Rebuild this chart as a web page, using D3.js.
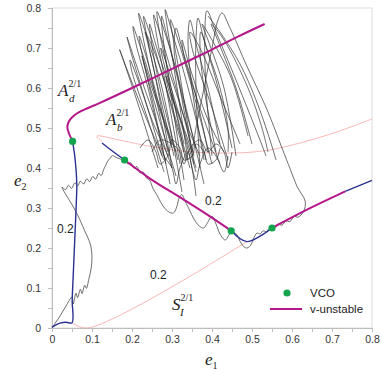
<!DOCTYPE html>
<html>
<head>
<meta charset="utf-8">
<script src="https://cdn.jsdelivr.net/npm/d3@7"></script>
<style>
	body { margin: 0; background: #fff; }
	svg { display: block; }
</style>
</head>
<body>
<div id="chart"></div>
<script>
// tick values
var majorTicks = [0, 0.1, 0.2, 0.3, 0.4, 0.5, 0.6, 0.7, 0.8];
var minorTicks = [0.05, 0.15, 0.25, 0.35, 0.45, 0.55, 0.65, 0.75];

// branch A (left): stable part (blue) and v-unstable part (magenta)
var branchAStable = [[0, 0.002], [0.01, 0.008], [0.02, 0.012], [0.035, 0.0145], [0.05, 0.013],
	[0.0505, 0.07], [0.053, 0.13], [0.056, 0.2], [0.059, 0.27], [0.061, 0.32], [0.062, 0.36],
	[0.058, 0.42], [0.0515, 0.4665]];
var branchAUnstable = [[0.0515, 0.4665], [0.043, 0.485], [0.0385, 0.5], [0.04, 0.511], [0.046, 0.522],
	[0.056, 0.532], [0.07, 0.541], [0.09, 0.55], [0.12, 0.563], [0.2, 0.6], [0.3, 0.648],
	[0.4, 0.696], [0.466, 0.729], [0.5315, 0.76]];

// branch B (lower): pieces alternating stable / v-unstable
var branchBStable = [
	[[0.125, 0.4625], [0.15, 0.443], [0.1815, 0.42]],
	[[0.448, 0.243], [0.4875, 0.216], [0.55, 0.25]],
	[[0.733, 0.3415], [0.8, 0.369]]
];
var branchBUnstable = [
	[[0.1815, 0.42], [0.246, 0.373], [0.329, 0.321], [0.39, 0.282], [0.448, 0.243]],
	[[0.55, 0.25], [0.64, 0.297], [0.733, 0.3415]]
];

// thin boundaries
var boundLower = [[0.05, 0.013], [0.089, 0], [0.4875, 0.216]];
var boundUpper = [[0.125, 0.4665], [0.112, 0.48], [0.166, 0.4705], [0.225, 0.458], [0.333, 0.4415],
	[0.454, 0.4375], [0.5375, 0.444], [0.62, 0.4625], [0.704, 0.4875], [0.8, 0.5225]];

// VCO points
var vcoPoints = [[0.0515, 0.4665], [0.1815, 0.42], [0.448, 0.243], [0.55, 0.25]];

// simulated trajectories
var trajLeft = [[0, 0], [0.008, 0.012], [0.02, 0.03], [0.035, 0.055], [0.05, 0.077], [0.053, 0.06],
	[0.06, 0.087], [0.064, 0.076], [0.071, 0.097], [0.075, 0.086], [0.082, 0.107], [0.086, 0.099],
	[0.092, 0.122], [0.098, 0.15], [0.1, 0.18], [0.097, 0.205], [0.09, 0.225], [0.083, 0.24],
	[0.07, 0.27], [0.055, 0.3], [0.04, 0.325], [0.028, 0.345], [0.025, 0.352], [0.034, 0.346],
	[0.041, 0.357], [0.049, 0.349], [0.057, 0.363], [0.064, 0.355], [0.071, 0.367], [0.079, 0.36],
	[0.087, 0.373], [0.094, 0.366], [0.102, 0.379], [0.109, 0.372], [0.117, 0.387], [0.123, 0.381],
	[0.129, 0.396], [0.134, 0.406], [0.139, 0.417], [0.145, 0.424], [0.151, 0.431], [0.159, 0.427],
	[0.167, 0.424], [0.175, 0.421], [0.1815, 0.42]];
var trajDown = [[0.1815, 0.42], [0.19, 0.41], [0.197, 0.413], [0.205, 0.399], [0.212, 0.404],
	[0.22, 0.388], [0.228, 0.39], [0.236, 0.375], [0.244, 0.37], [0.252, 0.35], [0.262, 0.333],
	[0.272, 0.314], [0.283, 0.298], [0.294, 0.289], [0.304, 0.288], [0.312, 0.303], [0.318, 0.326],
	[0.325, 0.333], [0.333, 0.316], [0.343, 0.297], [0.355, 0.272], [0.368, 0.255], [0.379, 0.25],
	[0.388, 0.262], [0.4, 0.279], [0.41, 0.26], [0.42, 0.235], [0.433, 0.22], [0.442, 0.232],
	[0.448, 0.243], [0.455, 0.239], [0.4625, 0.233], [0.472, 0.213], [0.48, 0.203], [0.4875, 0.2],
	[0.496, 0.206], [0.505, 0.226], [0.5125, 0.2375], [0.52, 0.235], [0.528, 0.243], [0.536, 0.241],
	[0.545, 0.251], [0.555, 0.249], [0.565, 0.26], [0.575, 0.257], [0.585, 0.268], [0.595, 0.266],
	[0.605, 0.279], [0.615, 0.277], [0.629, 0.2915], [0.633, 0.3165], [0.6125, 0.354], [0.596, 0.396],
	[0.575, 0.45], [0.5375, 0.546], [0.4875, 0.654], [0.445, 0.75], [0.425, 0.7875], [0.415, 0.77],
	[0.4, 0.7], [0.38, 0.6], [0.36, 0.5], [0.35, 0.44]];
var trajTangle = [
	[[0.265, 0.40], [0.215, 0.56], [0.185, 0.65], [0.169, 0.696], [0.19, 0.64], [0.225, 0.55], [0.28, 0.42]],
	[[0.275, 0.43], [0.23, 0.58], [0.2, 0.68], [0.1875, 0.7275], [0.21, 0.66], [0.245, 0.56], [0.3, 0.40]],
	[[0.285, 0.41], [0.24, 0.6], [0.21, 0.71], [0.2025, 0.754], [0.225, 0.69], [0.26, 0.58], [0.31, 0.44]],
	[[0.29, 0.44], [0.25, 0.62], [0.225, 0.74], [0.2165, 0.787], [0.24, 0.72], [0.275, 0.6], [0.325, 0.34]],
	[[0.30, 0.40], [0.26, 0.62], [0.235, 0.74], [0.229, 0.779], [0.25, 0.72], [0.285, 0.6], [0.335, 0.42]],
	[[0.305, 0.43], [0.265, 0.6], [0.24, 0.71], [0.233, 0.74], [0.26, 0.68], [0.295, 0.57], [0.345, 0.40]],
	[[0.32, 0.41], [0.28, 0.63], [0.26, 0.74], [0.254, 0.783], [0.275, 0.72], [0.31, 0.6], [0.355, 0.43]],
	[[0.33, 0.44], [0.29, 0.64], [0.267, 0.75], [0.2625, 0.791], [0.285, 0.73], [0.32, 0.61], [0.38, 0.36]],
	[[0.34, 0.42], [0.305, 0.65], [0.287, 0.76], [0.283, 0.796], [0.3, 0.74], [0.335, 0.62], [0.385, 0.42]],
	[[0.35, 0.44], [0.32, 0.63], [0.3, 0.74], [0.296, 0.771], [0.315, 0.72], [0.35, 0.6], [0.40, 0.41]],
	[[0.37, 0.40], [0.36, 0.6], [0.36, 0.72], [0.365, 0.775], [0.38, 0.72], [0.41, 0.62], [0.45, 0.45]],
	[[0.40, 0.43], [0.385, 0.6], [0.382, 0.73], [0.3875, 0.793], [0.41, 0.74], [0.46, 0.62], [0.52, 0.47], [0.535, 0.43]],
	[[0.31, 0.38], [0.26, 0.55], [0.235, 0.64], [0.225, 0.68], [0.25, 0.6], [0.3, 0.46]],
	[[0.36, 0.39], [0.31, 0.56], [0.28, 0.66], [0.272, 0.70], [0.3, 0.62], [0.34, 0.5], [0.37, 0.43]],
	[[0.42, 0.41], [0.36, 0.58], [0.33, 0.68], [0.325, 0.72], [0.345, 0.65], [0.39, 0.52], [0.43, 0.44]],
	[[0.44, 0.42], [0.40, 0.55], [0.35, 0.7], [0.345, 0.74], [0.37, 0.7], [0.42, 0.58], [0.47, 0.46]],
	[[0.5, 0.46], [0.46, 0.6], [0.41, 0.73], [0.398, 0.76], [0.43, 0.72], [0.49, 0.6], [0.525, 0.5], [0.54, 0.44]],
	[[0.28, 0.39], [0.24, 0.52], [0.2, 0.64], [0.195, 0.67], [0.215, 0.62], [0.25, 0.52], [0.29, 0.43]],
	[[0.295, 0.36], [0.255, 0.55], [0.222, 0.7], [0.218, 0.73], [0.238, 0.67], [0.27, 0.55], [0.3, 0.45]],
	[[0.315, 0.42], [0.27, 0.6], [0.248, 0.72], [0.244, 0.76], [0.262, 0.7], [0.3, 0.58], [0.33, 0.46]],
	[[0.33, 0.37], [0.295, 0.6], [0.276, 0.74], [0.274, 0.78], [0.29, 0.72], [0.325, 0.58], [0.36, 0.45]],
	[[0.355, 0.41], [0.32, 0.6], [0.305, 0.7], [0.31, 0.75], [0.325, 0.7], [0.36, 0.58], [0.39, 0.44]],
	[[0.38, 0.42], [0.35, 0.6], [0.34, 0.72], [0.345, 0.77], [0.36, 0.71], [0.39, 0.6], [0.42, 0.46]],
	[[0.46, 0.43], [0.43, 0.6], [0.39, 0.72], [0.375, 0.76], [0.4, 0.72], [0.45, 0.62], [0.49, 0.48]],
	[[0.41, 0.44], [0.38, 0.6], [0.37, 0.7], [0.372, 0.74], [0.39, 0.69], [0.42, 0.6], [0.44, 0.5], [0.44, 0.44]],
	[[0.39, 0.78], [0.42, 0.74], [0.47, 0.66], [0.51, 0.57], [0.545, 0.47], [0.56, 0.42]],
	[[0.36, 0.33], [0.35, 0.4], [0.32, 0.52], [0.29, 0.6], [0.285, 0.63], [0.3, 0.58], [0.34, 0.47], [0.36, 0.4]],
	[[0.22, 0.45], [0.24, 0.47], [0.26, 0.44], [0.27, 0.41], [0.29, 0.43], [0.30, 0.47], [0.32, 0.45],
		[0.33, 0.42], [0.35, 0.43], [0.36, 0.46], [0.38, 0.44], [0.39, 0.41], [0.41, 0.42], [0.42, 0.45]],
	[[0.27, 0.46], [0.28, 0.43], [0.3, 0.4], [0.31, 0.36], [0.32, 0.4], [0.34, 0.44], [0.35, 0.4],
		[0.36, 0.37], [0.37, 0.41], [0.39, 0.45], [0.41, 0.43], [0.43, 0.39], [0.44, 0.43]],
	[[0.25, 0.44], [0.27, 0.47], [0.30, 0.46], [0.32, 0.44], [0.33, 0.41], [0.345, 0.45], [0.37, 0.47],
		[0.39, 0.44], [0.41, 0.46], [0.43, 0.44], [0.44, 0.40], [0.45, 0.44]]
];

var options = {
	width: 320,
	height: 320,
	margin: { left: 52, top: 8 },
	colors: { unstable: '#b5178a', stable: '#2b3192', vco: '#12a54e', bound: '#f7a5a5', traj: '#303030' }
};

var svg = d3.select('#chart')
	.append('svg')
	.attr('width', 382)
	.attr('height', 374)
	.style('font-family', '"Liberation Sans", Arial, sans-serif');

var g = svg.append('g')
	.attr('transform', 'translate(' + options.margin.left + ',' + options.margin.top + ')');

var x = d3.scaleLinear().domain([0, 0.8]).range([0, options.width]);
var y = d3.scaleLinear().domain([0, 0.8]).range([options.height, 0]);

// frame
g.append('rect')
	.attr('width', options.width)
	.attr('height', options.height)
	.style('fill', 'none')
	.style('stroke', '#dcdcdc');

var fmt = function(d) { return d === 0 ? '0' : d3.format('.1f')(d); };

g.append('g').attr('class', 'axis')
	.attr('transform', 'translate(0,' + options.height + ')')
	.call(d3.axisBottom(x).tickValues(majorTicks).tickFormat(fmt).tickSize(4).tickPadding(4));
g.append('g').attr('class', 'axis minor')
	.attr('transform', 'translate(0,' + options.height + ')')
	.call(d3.axisBottom(x).tickValues(minorTicks).tickFormat('').tickSize(4));
g.append('g').attr('class', 'axis')
	.call(d3.axisLeft(y).tickValues(majorTicks).tickFormat(fmt).tickSize(4).tickPadding(7));
g.append('g').attr('class', 'axis minor')
	.call(d3.axisLeft(y).tickValues(minorTicks).tickFormat('').tickSize(4));

g.selectAll('.axis path').style('stroke', '#bdbdbd').style('shape-rendering', 'crispEdges');
g.selectAll('.axis .tick line').style('stroke', '#bdbdbd').style('shape-rendering', 'crispEdges');
g.selectAll('.axis text').style('font-size', '10.5px').style('fill', '#333')
	.style('font-family', '"Liberation Sans", Arial, sans-serif');

var smooth = d3.line().curve(d3.curveCatmullRom).x(function(d) { return x(d[0]); }).y(function(d) { return y(d[1]); });

// boundaries
g.selectAll('.bound')
	.data([boundLower, boundUpper])
	.enter().append('path')
	.attr('d', smooth)
	.style('fill', 'none')
	.style('stroke', options.colors.bound)
	.style('stroke-width', 0.8);

// trajectories
g.selectAll('.traj')
	.data([trajLeft, trajDown].concat(trajTangle))
	.enter().append('path')
	.attr('d', smooth)
	.style('fill', 'none')
	.style('stroke', options.colors.traj)
	.style('stroke-width', 0.7)
	.style('stroke-linejoin', 'round');

// stable branches
g.selectAll('.stable')
	.data([branchAStable].concat(branchBStable))
	.enter().append('path')
	.attr('d', smooth)
	.style('fill', 'none')
	.style('stroke', options.colors.stable)
	.style('stroke-width', 1.4);

// v-unstable branches
g.selectAll('.unstable')
	.data([branchAUnstable].concat(branchBUnstable))
	.enter().append('path')
	.attr('d', smooth)
	.style('fill', 'none')
	.style('stroke', options.colors.unstable)
	.style('stroke-width', 2);

g.selectAll('.vco')
	.data(vcoPoints)
	.enter().append('circle')
	.attr('cx', function(d) { return x(d[0]); })
	.attr('cy', function(d) { return y(d[1]); })
	.attr('r', 3.6)
	.style('fill', options.colors.vco);

// region labels A_d, A_b, S_I with 2/1 superscript
function regionLabel(px, py, main, sub, subDx) {
	var t = svg.append('text')
		.attr('x', px).attr('y', py)
		.style('font-family', '"Liberation Serif", "Times New Roman", serif')
		.style('font-style', 'italic')
		.style('fill', '#222');
	t.append('tspan').style('font-size', '17px').text(main);
	t.append('tspan').attr('dy', -9).style('font-size', '10px').style('font-style', 'normal').text('2/1');
	t.append('tspan').attr('x', px + subDx).attr('dy', 15).style('font-size', '11px').text(sub);
}
regionLabel(58, 96, 'A', 'd', 11);
regionLabel(106, 125, 'A', 'b', 11);
regionLabel(172, 310, 'S', 'I', 8);

// contour labels
[[57, 233], [150, 279], [205, 205]].forEach(function(p) {
	svg.append('text').attr('x', p[0]).attr('y', p[1])
		.style('font-size', '12px').style('fill', '#222').text('0.2');
});

// axis titles
function axisTitle(px, py, sub) {
	var t = svg.append('text').attr('x', px).attr('y', py)
		.style('font-family', '"Liberation Serif", "Times New Roman", serif')
		.style('fill', '#222');
	t.append('tspan').style('font-style', 'italic').style('font-size', '17px').text('e');
	t.append('tspan').attr('dy', 4).style('font-size', '10px').text(sub);
}
axisTitle(205, 365, '1');
axisTitle(14, 186, '2');

// legend
var legend = svg.append('g').attr('transform', 'translate(270,293)');
legend.append('circle').attr('cx', 17).attr('cy', 0).attr('r', 3.6).style('fill', options.colors.vco);
legend.append('text').attr('x', 40).attr('y', 4).style('font-size', '11.5px').style('fill', '#222').text('VCO');
legend.append('line').attr('x1', 0).attr('x2', 32).attr('y1', 16).attr('y2', 16)
	.style('stroke', options.colors.unstable).style('stroke-width', 2);
legend.append('text').attr('x', 40).attr('y', 20).style('font-size', '11.5px').style('fill', '#222').text('v-unstable');
</script>
</body>
</html>
